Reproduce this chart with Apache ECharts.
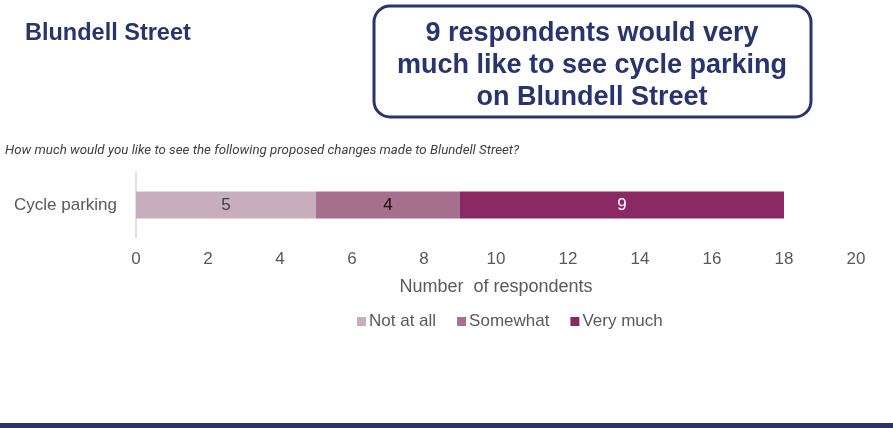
<!DOCTYPE html>
<html>
<head>
<meta charset="utf-8">
<script src="https://cdn.jsdelivr.net/npm/echarts@6/dist/echarts.min.js"></script>
<style>
  html, body { margin: 0; padding: 0; background: #fff; }
  #chart { width: 893px; height: 428px; }
</style>
</head>
<body>
<div id="chart"></div>
<script>
const categories = ["Cycle parking"];
const seriesNames = ["Not at all", "Somewhat", "Very much"];
const notAtAll = [5];
const somewhat = [4];
const veryMuch = [9];
const xTicks = [0, 2, 4, 6, 8, 10, 12, 14, 16, 18, 20];

const colors = ["#c8aebd", "#a66f8d", "#8a2963"];
const labelColors = ["#404040", "#111111", "#ffffff"];
const navy = "#27346f";
const grey = "#595959";

const chart = echarts.init(document.getElementById("chart"));

const values = [notAtAll, somewhat, veryMuch];

const option = {
    animation: false,
    color: colors,
    title: [
        {
            text: "Blundell Street",
            left: 20, top: 17,
            textStyle: { fontFamily: "Liberation Sans, Arial", fontWeight: "bold", fontSize: 23.5, color: navy }
        },
        {
            text: "How much would you like to see the following proposed changes made to Blundell Street?",
            left: 0, top: 139,
            textStyle: { fontFamily: "Roboto, Arial", fontStyle: "italic", fontWeight: "normal", fontSize: 13.3, color: "#404040" }
        }
    ],
    graphic: [
        {
            type: "rect",
            shape: { x: 374, y: 6, width: 437, height: 111, r: 16 },
            style: { fill: "#fff", stroke: navy, lineWidth: 3 }
        },
        {
            type: "text",
            x: 592, y: 18,
            style: {
                text: "9 respondents would very\nmuch like to see cycle parking\non Blundell Street",
                fill: navy,
                font: "bold 27px 'Liberation Sans', Arial",
                align: "center",
                lineHeight: 32
            }
        },
        {
            type: "rect",
            shape: { x: 0, y: 423, width: 893, height: 5 },
            style: { fill: navy }
        }
    ],
    legend: {
        data: seriesNames,
        top: 308,
        left: 352,
        itemWidth: 9, itemHeight: 9, itemGap: 21,
        icon: "rect",
        textStyle: { fontFamily: "Liberation Sans, Arial", fontSize: 17, color: grey, padding: [0, 0, 0, -2] }
    },
    grid: { left: 136, right: 37, top: 172, height: 66, containLabel: false },
    xAxis: {
        type: "value",
        min: 0, max: 20, interval: 2,
        axisLine: { show: false },
        axisTick: { show: false },
        splitLine: { show: false },
        axisLabel: {
            fontFamily: "Liberation Sans, Arial", fontSize: 17, color: grey, margin: 13,
            formatter: v => xTicks.includes(v) ? String(v) : ""
        },
        name: "Number  of respondents",
        nameLocation: "middle",
        nameGap: 40,
        nameTextStyle: { fontFamily: "Liberation Sans, Arial", fontSize: 18, color: grey }
    },
    yAxis: {
        type: "category",
        data: categories,
        axisLine: { show: true, lineStyle: { color: "#d9d9d9", width: 1.5 } },
        axisTick: { show: false },
        axisLabel: { fontFamily: "Liberation Sans, Arial", fontSize: 17, color: grey, margin: 19 }
    },
    series: seriesNames.map((name, i) => ({
        name: name,
        type: "bar",
        stack: "total",
        barWidth: 27,
        data: values[i],
        itemStyle: { color: colors[i] },
        label: {
            show: true,
            position: "inside",
            fontFamily: "Liberation Sans, Arial",
            fontSize: 17,
            color: labelColors[i]
        }
    }))
};

chart.setOption(option);
</script>
</body>
</html>
